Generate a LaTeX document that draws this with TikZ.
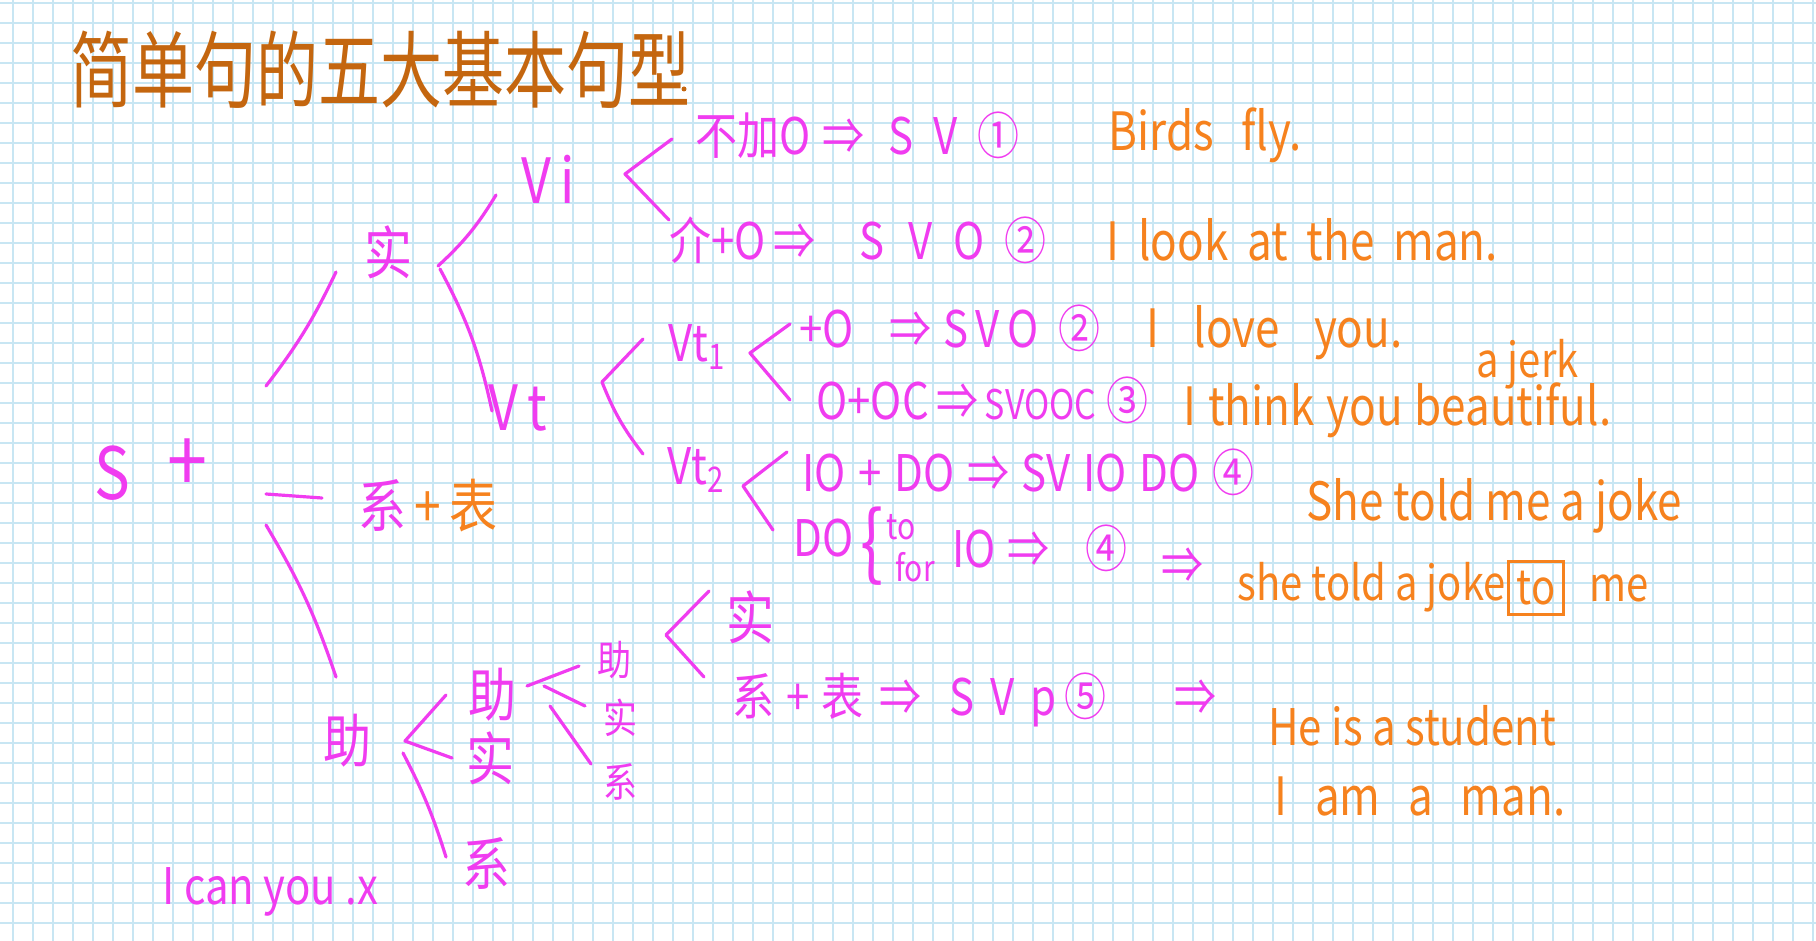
\documentclass[tikz,border=0pt]{standalone}
\usepackage{fontspec}
\setmainfont{Noto Sans CJK SC}
\usetikzlibrary{positioning}
\definecolor{penpink}{HTML}{F03CF0}
\definecolor{penorange}{HTML}{F6821E}
\definecolor{penbrown}{HTML}{C4660F}
\definecolor{gridblue}{HTML}{C8E6F3}
\newcommand\hgap[1]{\hspace{#1pt}}
\tikzset{
  pk/.style={text=penpink,inner sep=0pt,yscale=1.2,font=\fontsize{21}{22}\selectfont},
  og/.style={text=penorange,inner sep=0pt,yscale=1.2,font=\fontsize{22}{24}\selectfont},
  hz/.style={text=penpink,inner sep=0pt,yscale=1.2,font=\fontsize{24}{26}\selectfont},
  small/.style={text=penpink,inner sep=0pt,yscale=1.2,font=\fontsize{17}{18}\selectfont},
  ws/.style={execute at begin node={\spaceskip=#1em\relax}},
  stroke/.style={draw=penpink,line width=1.6pt,line cap=round,line join=round},
}
\begin{document}
\begin{tikzpicture}[x=0.5pt,y=-0.5pt]
  \useasboundingbox (0,0) rectangle (1816,941);
  \fill[white] (0,0) rectangle (1816,941);
  \foreach \x in {13,33,...,1813} {\draw[gridblue,line width=0.55pt] (\x,0) -- (\x,941);}
  \foreach \y in {3,23,...,923} {\draw[gridblue,line width=0.55pt] (0,\y) -- (1816,\y);}
  \node[anchor=west,text=penbrown,inner sep=0pt,yscale=1.35,font=\fontsize{31}{32}\selectfont] (title) at (70,70) {简单句的五大基本句型};
  \fill[penbrown] (684,89) circle (2.5);
  \node[pk,font=\fontsize{30}{30}\selectfont] (s) at (112,473) {S};
  \node[pk,font=\fontsize{36}{36}\selectfont] (plus) at (187,466) {+};
  \node[hz] (shi) at (388,252) {实};
  \node[hz,anchor=west] (xibiao) at (358,506) {系\,\textcolor{penorange}{+\,表}};
  \node[hz] (zhu) at (347,741) {助};
  \node[pk,font=\fontsize{26}{26}\selectfont] (vi) at (548,179) {V\,i};
  \node[pk,font=\fontsize{26}{26}\selectfont] (vt) at (518,408) {V\,t};
  \node[pk] (vta) at (697,347) {Vt\textsubscript{1}};
  \node[pk] (vtb) at (696,470) {Vt\textsubscript{2}};
  \node[pk,anchor=west] (r1) at (695,135) {不加O\hgap{6}⇒\hgap{12}S\hgap{10}V\hgap{10}①};
  \node[pk,anchor=west] (r2) at (669,240) {介+O\hgap{4}⇒\hgap{22}S\hgap{12}V\hgap{10}O\hgap{10}②};
  \node[pk,anchor=west] (r3) at (799,328) {+O\hgap{18}⇒\hgap{6}S\,V\,O\hgap{10}②};
  \node[pk,anchor=west] (r4) at (816,400) {O+OC\hgap{4}⇒\hgap{3}{\fontsize{17}{18}\selectfont SVOOC}\hgap{5}③};
  \node[pk,anchor=west,ws=0.3] (r5) at (802,472) {IO + DO ⇒ SV IO DO ④};
  \node[pk,anchor=west] (r6) at (793,538) {DO};
  \node[pk,font=\fontsize{34}{34}\selectfont] (r6b) at (872,546) {\{};
  \node[small,font=\fontsize{15}{16}\selectfont] (to) at (901,527) {to};
  \node[small,font=\fontsize{15}{16}\selectfont] (for) at (915,567) {for};
  \node[pk,anchor=west] (r6c) at (952,548) {IO\hgap{6}⇒\hgap{18}④};
  \node[og,anchor=west,ws=0.63] (e1) at (1108,135) {Birds fly.};
  \node[og,anchor=west,ws=0.43] (e2) at (1106,240) {I look at the man.};
  \node[og,anchor=west,ws=0.78] (e3) at (1146,333) {I love you.};
  \node[og,anchor=west,ws=0.27] (e4) at (1183,410) {I think you beautiful.};
  \node[og,anchor=west,font=\fontsize{20}{22}\selectfont] (e4b) at (1476,364) {a jerk};
  \node[og,anchor=west] (e5) at (1306,506) {She told me a joke};
  \node[pk] (imp) at (1182,566) {⇒};
  \node[og,anchor=west,font=\fontsize{20}{22}\selectfont] (e6) at (1237,587) {she told a joke};
  \node[og,draw=penorange,line width=1.5pt,inner sep=4pt,font=\fontsize{20}{22}\selectfont] (e6to) at (1536,588) {to};
  \node[og,anchor=west,font=\fontsize{20}{22}\selectfont] (e6me) at (1589,588) {me};
  \node[hz] (zhub) at (492,695) {助};
  \node[hz] (shib) at (490,758) {实};
  \node[hz] (xib) at (486,863) {系};
  \node[small] (zhuc) at (614,660) {助};
  \node[small] (shic) at (620,718) {实};
  \node[small] (xic) at (620,782) {系};
  \node[hz] (shid) at (750,617) {实};
  \node[pk,anchor=west] (r7) at (732,700) {系\hgap{6}+\hgap{6}表\hgap{8}⇒\hgap{14}S\hgap{8}V\hgap{8}p\hgap{4}⑤\hgap{34}⇒};
  \node[og,anchor=west,font=\fontsize{21}{22}\selectfont] (e7) at (1268,726) {He is a student};
  \node[og,anchor=west,ws=0.63] (e8) at (1274,796) {I am a man.};
  \node[pk,anchor=west] (bad) at (162,892) {I can you .x};
  \draw[stroke] ([shift={(79,-80)}]plus.center) to[bend right=6] ([shift={(-52,20)}]shi.center);
  \draw[stroke] ([shift={(79,28)}]plus.center) -- ([shift={(-36,-8)}]xibiao.west);
  \draw[stroke] ([shift={(79,59)}]plus.center) to[bend left=6] ([shift={(-11,-64)}]zhu.center);
  \draw[stroke] ([shift={(50,14)}]shi.center) to[bend right=8] ([shift={(-52,16)}]vi.center);
  \draw[stroke] ([shift={(52,17)}]shi.center) to[bend left=8] ([shift={(-26,3)}]vt.center);
  \draw[stroke] ([shift={(-23,4)}]r1.west) -- ([shift={(77,-5)}]vi.center) -- ([shift={(0,-20)}]r2.west);
  \draw[stroke] ([shift={(-54,-8)}]vta.center) -- ([shift={(84,-26)}]vt.center) to[bend right=8] ([shift={(-53,-16)}]vtb.center);
  \draw[stroke] ([shift={(-9,-4)}]r3.west) -- ([shift={(53,6)}]vta.center) -- ([shift={(-26,0)}]r4.west);
  \draw[stroke] ([shift={(-15,-20)}]r5.west) -- ([shift={(47,16)}]vtb.center) -- ([shift={(-20,-8)}]r6.west);
  \draw[stroke] ([shift={(-46,0)}]zhub.center) -- ([shift={(58,0)}]zhu.center) -- ([shift={(-38,0)}]shib.center);
  \draw[stroke] ([shift={(56,12)}]zhu.center) to[bend left=5] ([shift={(-40,-6)}]xib.center);
  \draw[stroke] ([shift={(35,-9)}]zhub.center) -- ([shift={(-35,6)}]zhuc.center);
  \draw[stroke] ([shift={(52,-9)}]zhub.center) -- ([shift={(-35,-12)}]shic.center);
  \draw[stroke] ([shift={(58,11)}]zhub.center) -- ([shift={(-29,-18)}]xic.center);
  \draw[stroke] ([shift={(-41,-26)}]shid.center) -- ([shift={(52,-25)}]zhuc.center) -- ([shift={(-28,-23)}]r7.west);
\end{tikzpicture}
\end{document}
